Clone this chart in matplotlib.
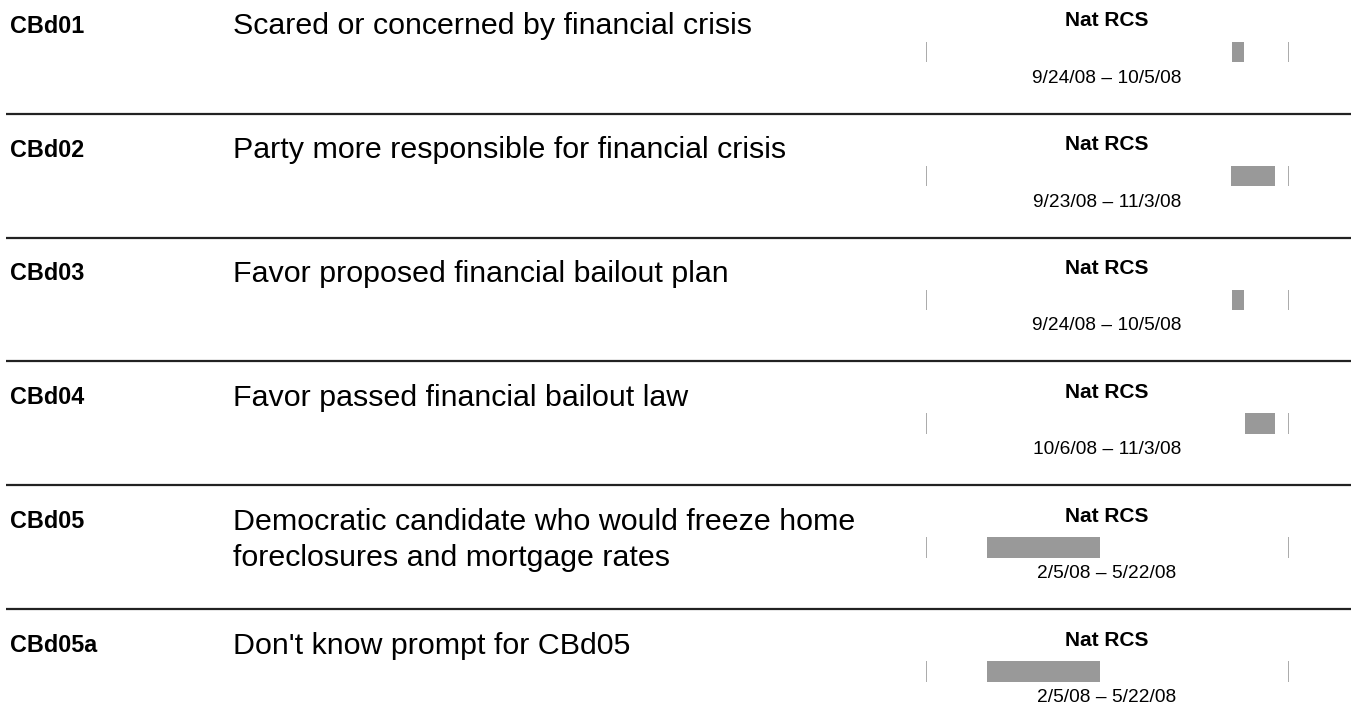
import matplotlib
matplotlib.use("Agg")
import matplotlib.pyplot as plt
import matplotlib.dates as mdates
from datetime import date

# question codes, wording and the field period of each item
codes = ["CBd01", "CBd02", "CBd03", "CBd04", "CBd05", "CBd05a"]
descriptions = [
    "Scared or concerned by financial crisis",
    "Party more responsible for financial crisis",
    "Favor proposed financial bailout plan",
    "Favor passed financial bailout law",
    "Democratic candidate who would freeze home\nforeclosures and mortgage rates",
    "Don't know prompt for CBd05",
]
survey = ["Nat RCS"] * 6
starts = [date(2008, 9, 24), date(2008, 9, 23), date(2008, 9, 24),
          date(2008, 10, 6), date(2008, 2, 5), date(2008, 2, 5)]
ends = [date(2008, 10, 5), date(2008, 11, 3), date(2008, 10, 5),
        date(2008, 11, 3), date(2008, 5, 22), date(2008, 5, 22)]
# extent of the survey timeline (end marks)
timeline = [date(2007, 12, 9), date(2008, 11, 16)]

W, H = 1351, 711
plt.rcParams['font.family'] = ['Liberation Sans', 'DejaVu Sans']
fig = plt.figure(figsize=(W / 100, H / 100), dpi=100)
base = fig.add_axes([0, 0, 1, 1])
base.set_xlim(0, W)
base.set_ylim(H, 0)
base.axis('off')

row_top = -10.3
row_h = 123.9
tl_left, tl_right = 925.5, 1288.5

def fmt(d):
    return "{}/{}/{:02d}".format(d.month, d.day, d.year % 100)

for i, code in enumerate(codes):
    s = row_top + i * row_h
    if i > 0:
        base.plot([6, W], [s, s], color='#222222', lw=1.6, solid_capstyle='butt')
    base.text(10, s + 36.5, code, fontsize=16.8, fontweight='bold', va='center', ha='left')
    for j, line in enumerate(descriptions[i].split("\n")):
        base.text(233, s + 36.5 + j * 36, line, fontsize=21.9, va='center', ha='left')
    mid = (tl_left + tl_right) / 2
    base.text(mid, s + 31, survey[i], fontsize=15, fontweight='bold', ha='center', va='center')
    base.text(mid, s + 88.5, fmt(starts[i]) + " \u2013 " + fmt(ends[i]),
              fontsize=13.8, ha='center', va='center')

    # timeline axes for this row
    y0, y1 = s + 52, s + 72.5
    ax = fig.add_axes([tl_left / W, 1 - y1 / H, (tl_right - tl_left) / W, (y1 - y0) / H])
    ax.set_xlim(mdates.date2num(timeline[0]), mdates.date2num(timeline[1]))
    ax.set_ylim(0, 1)
    ax.axis('off')
    for t in timeline:
        ax.axvline(mdates.date2num(t), color='#aaaaaa', lw=1.4)
    x0 = mdates.date2num(starts[i])
    x1 = mdates.date2num(ends[i])
    ax.barh(0.5, x1 - x0, left=x0, height=1.0, color='#999999')

fig.savefig("out.png", dpi=100)
